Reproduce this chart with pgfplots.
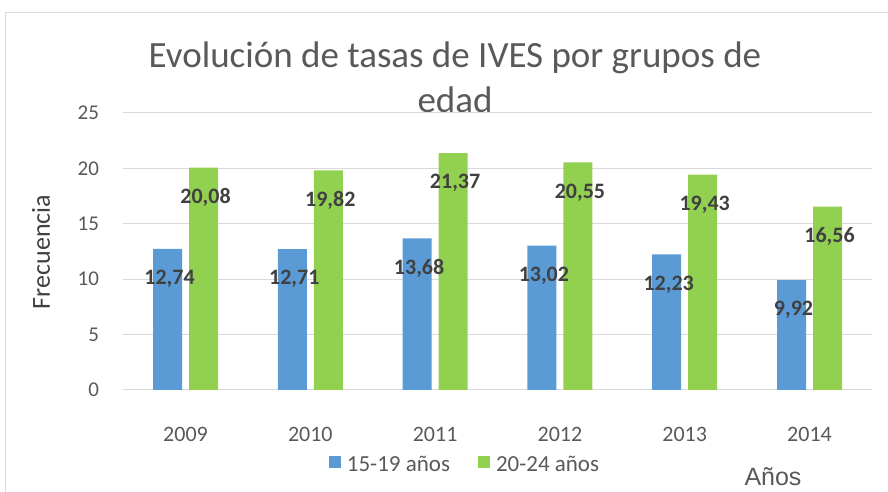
\documentclass[border=0pt]{standalone}
\usepackage{pgfplots}
\pgfplotsset{compat=1.18}
\usepackage{pgfplotstable}
\usepackage{fontspec}
\setmainfont{Carlito}
\newfontfamily\arialfont{Liberation Sans}
\definecolor{barblue}{HTML}{5B9BD5}
\definecolor{bargreen}{HTML}{92D050}
\definecolor{txtgray}{HTML}{595959}
\definecolor{lblgray}{HTML}{404040}
\definecolor{gridgray}{HTML}{D9D9D9}
\pgfplotstableread{
x y lab
0 12.74 12,74
1 12.71 12,71
2 13.68 13,68
3 13.02 13,02
4 12.23 12,23
5 9.92 9,92
}\blue
\pgfplotstableread{
x y lab
0 20.08 20,08
1 19.82 19,82
2 21.37 21,37
3 20.55 20,55
4 19.43 19,43
5 16.56 16,56
}\green
\begin{document}
\begin{tikzpicture}[x=1pt,y=1pt]
\useasboundingbox (0,0) rectangle (888,492);
\draw[gridgray, line width=1pt] (5,-10) -- (5,479) -- (900,479);
\node[anchor=base, text=txtgray, font=\fontsize{37}{42}\selectfont] at (455,424) {Evolución de tasas de IVES por grupos de};
\node[anchor=base, text=txtgray, font=\fontsize{37}{42}\selectfont] at (455,379) {edad};
\node[rotate=90, text=lblgray, font=\fontsize{26}{30}\selectfont] at (41,240) {Frecuencia};
\node[anchor=base, text=txtgray, font=\arialfont\fontsize{25}{30}\selectfont] at (773,6) {Años};
\begin{axis}[
  at={(123.1pt,102pt)}, anchor=south west,
  scale only axis, width=748.8pt, height=277pt,
  ybar=7pt, bar width=29pt,
  xmin=-0.5, xmax=5.5, ymin=0, ymax=25,
  xtick={0,...,5}, xticklabels={2009,2010,2011,2012,2013,2014},
  ytick={0,5,...,25},
  /pgf/number format/assume math mode=true,
  axis line style={draw=none},
  major tick length=0pt,
  ymajorgrids, grid style={gridgray, line width=1pt},
  xticklabel style={anchor=base, yshift=-52pt, text=txtgray, font=\fontsize{22}{26}\selectfont},
  yticklabel style={anchor=east, inner sep=0pt, xshift=-24pt, text=txtgray, font=\fontsize{21}{25}\selectfont},
  point meta=explicit symbolic,
  nodes near coords,
  every node near coord/.append style={anchor=center, yshift=-30pt, xshift=2pt, text=lblgray, font=\bfseries\fontsize{22}{26}\selectfont},
  legend columns=2,
  legend style={at={(0.4566,-0.2708)}, anchor=center, draw=none, fill=none, text=txtgray, font=\fontsize{23}{27}\selectfont,
    /tikz/every even column/.append style={column sep=26pt}},
  legend image code/.code={\fill[#1] (0pt,-3pt) rectangle (12pt,9pt); \path (16pt,0pt);},
]
\addplot[fill=barblue, draw=none] table[x=x,y=y,meta=lab] {\blue};
\addplot[fill=bargreen, draw=none] table[x=x,y=y,meta=lab] {\green};
\legend{15-19 años, 20-24 años}
\end{axis}
\end{tikzpicture}
\end{document}
